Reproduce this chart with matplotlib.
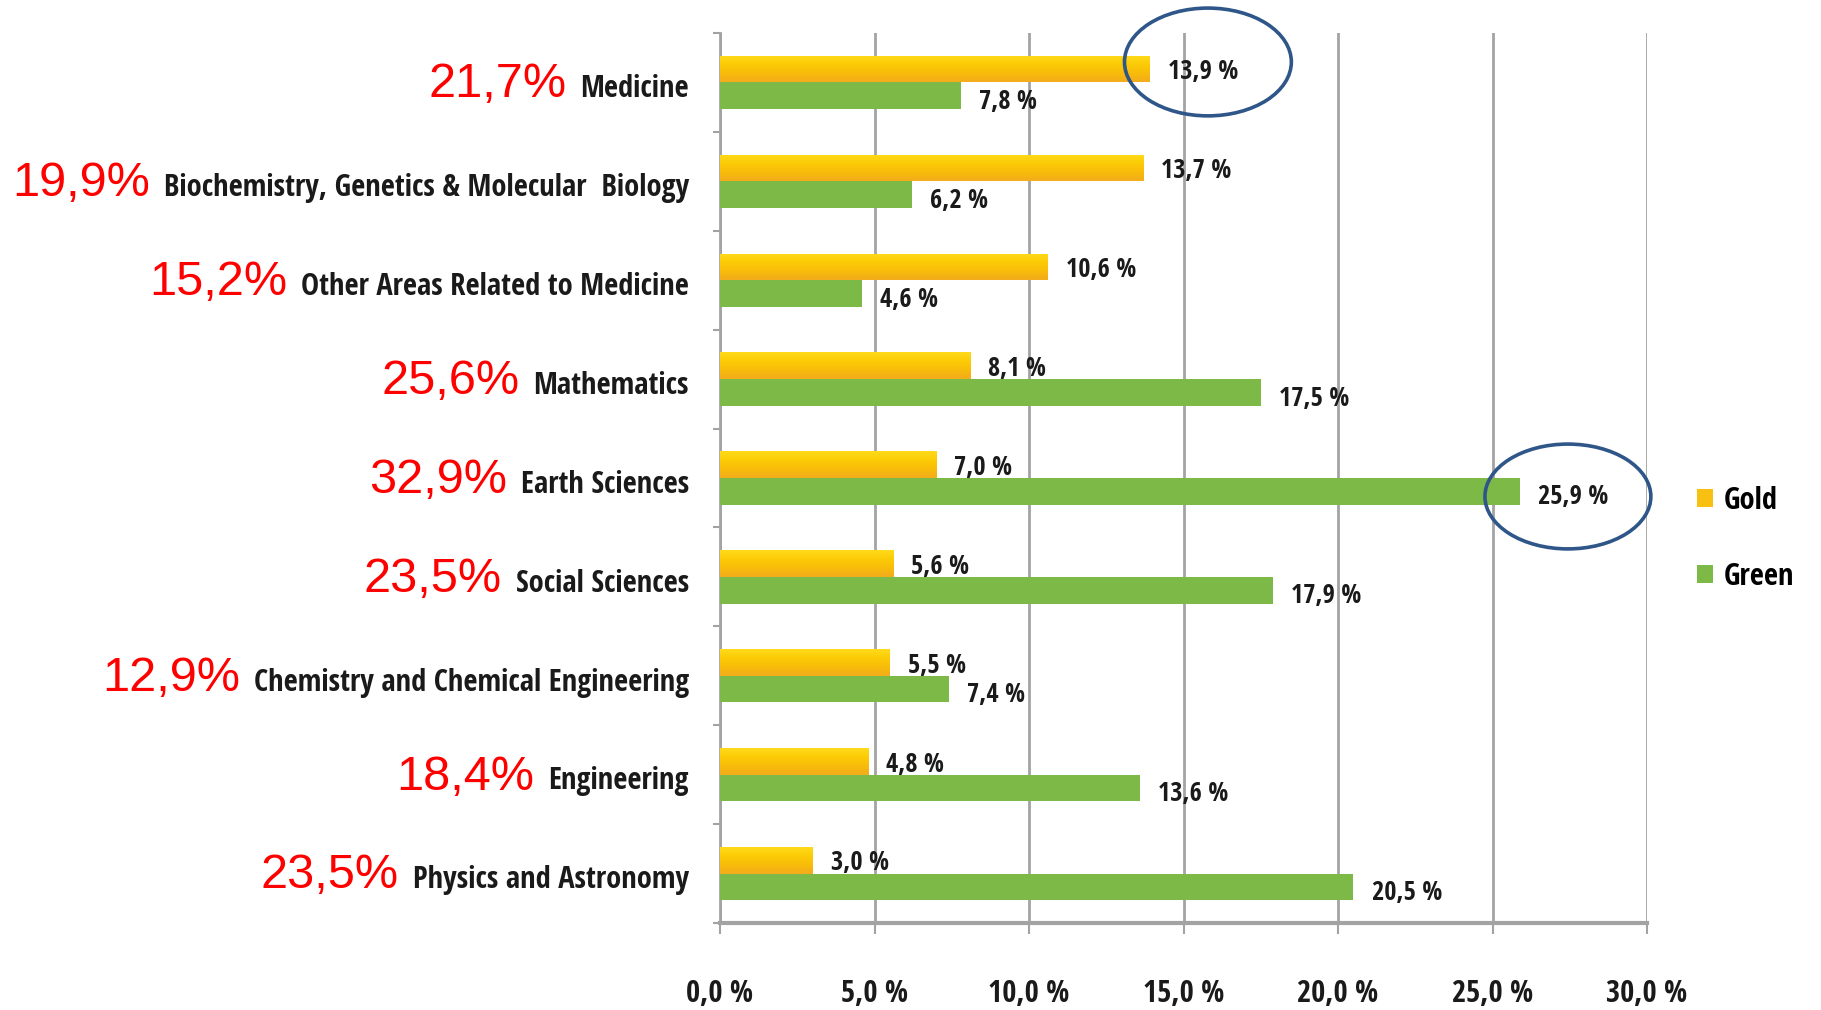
import matplotlib
matplotlib.use("Agg")
import matplotlib.pyplot as plt
import numpy as np
from matplotlib.patches import Ellipse, Patch
from matplotlib.colors import LinearSegmentedColormap
from matplotlib.transforms import IdentityTransform

categories = ["Medicine", "Biochemistry, Genetics & Molecular  Biology",
              "Other Areas Related to Medicine", "Mathematics", "Earth Sciences",
              "Social Sciences", "Chemistry and Chemical Engineering",
              "Engineering", "Physics and Astronomy"]
gold = [13.9, 13.7, 10.6, 8.1, 7.0, 5.6, 5.5, 4.8, 3.0]
green = [7.8, 6.2, 4.6, 17.5, 25.9, 17.9, 7.4, 13.6, 20.5]
totals = ["21,7%", "19,9%", "15,2%", "25,6%", "32,9%", "23,5%", "12,9%", "18,4%", "23,5%"]
xticks = [0, 5, 10, 15, 20, 25, 30]

NARROW = ["Open Sans Condensed", "DejaVu Sans"]
GOLD_C = "#F8C010"
GREEN_C = "#7DB946"
GRID_C = "#A3A3A3"
CIRCLE_C = "#2F5688"
TXT_C = "#1a1a1a"

fig = plt.figure(figsize=(18.21, 10.10), dpi=100)
fig.patch.set_facecolor("white")
ax = fig.add_axes([720/1821, 1-923/1010, (1647-720)/1821, (923-33)/1010])
ax.set_facecolor("white")

ys = list(range(len(categories)))
h = 0.27
gold_bars = ax.barh([y - 0.135 for y in ys], gold, height=h, color=GOLD_C, label="Gold", zorder=3)
ax.barh([y + 0.135 for y in ys], green, height=h, color=GREEN_C, label="Green", zorder=3)

# yellow-to-orange shading on gold bars (clipped to each bar)
gold_cmap = LinearSegmentedColormap.from_list(
    "goldshade", ["#FFDA1A", "#FCCB06", "#F8BC0A", "#F3AC1C"])
grad = np.linspace(0, 1, 32).reshape(-1, 1)
for p in gold_bars.patches:
    x0, y0, w, hh = p.get_x(), p.get_y(), p.get_width(), p.get_height()
    im = ax.imshow(grad, extent=(x0, x0 + w, y0 + hh, y0), origin="upper",
                   aspect="auto", cmap=gold_cmap, interpolation="bilinear", zorder=3.5)
    im.set_clip_path(p)

def fmt(v):
    return f"{v:.1f}".replace(".", ",") + " %"

for y, v in zip(ys, gold):
    ax.annotate(fmt(v), (v, y - 0.135), xytext=(13, -2), textcoords="offset points",
                ha="left", va="center", fontsize=19, fontweight="bold",
                family=NARROW, color=TXT_C, zorder=5)
for y, v in zip(ys, green):
    ax.annotate(fmt(v), (v, y + 0.135), xytext=(13, -4), textcoords="offset points",
                ha="left", va="center", fontsize=19, fontweight="bold",
                family=NARROW, color=TXT_C, zorder=5)

ax.set_xlim(0, 30)
ax.set_ylim(len(categories) - 0.5, -0.5)
ax.set_xticks(xticks)
ax.set_xticklabels([f"{t:.1f}".replace(".", ",") + " %" for t in xticks],
                   fontsize=22, fontweight="bold", family=NARROW, color=TXT_C)
ax.tick_params(axis="x", length=8, width=1.5, color=GRID_C, pad=32)
ax.set_yticks([y - 0.5 for y in range(len(categories) + 1)])
ax.set_yticklabels([])
ax.tick_params(axis="y", length=5, width=1.5, color=GRID_C, direction="out")
ax.xaxis.grid(True, color=GRID_C, linewidth=2, zorder=0)
ax.set_axisbelow(True)
for s in ["top", "right"]:
    ax.spines[s].set_visible(False)
ax.spines["left"].set_color(GRID_C)
ax.spines["left"].set_linewidth(2)
ax.spines["bottom"].set_color(GRID_C)
ax.spines["bottom"].set_linewidth(3)

# category labels
cat_texts = []
for y, c in zip(ys, categories):
    t = ax.text(-31/30.9, y + 0.15, c, ha="right", va="baseline", fontsize=22,
                fontweight="bold", family=NARROW, color=TXT_C)
    cat_texts.append(t)

fig.canvas.draw()
r = fig.canvas.get_renderer()
for t, tot in zip(cat_texts, totals):
    bb = t.get_window_extent(r)
    disp_y = t.get_transform().transform(t.get_position())[1]
    fig.text(bb.x0 - 14, disp_y, tot, transform=IdentityTransform(), ha="right",
             va="baseline", fontsize=35, color="#FF0000",
             family=["Liberation Sans", "DejaVu Sans"])

ax.add_patch(Ellipse((15.79, -0.207), 5.40, 1.09, fill=False, edgecolor=CIRCLE_C,
                     linewidth=2.6, clip_on=False, zorder=6))
ax.add_patch(Ellipse((27.44, 4.187), 5.37, 1.06, fill=False, edgecolor=CIRCLE_C,
                     linewidth=2.6, clip_on=False, zorder=6))

handles = [Patch(facecolor=GOLD_C), Patch(facecolor=GREEN_C)]
leg = fig.legend(handles, ["Gold", "Green"], loc="center left",
                 bbox_to_anchor=(1669/1821, 1 - 539/1010), frameon=False,
                 handlelength=0.55, handleheight=0.55, handletextpad=0.35,
                 labelspacing=1.5, prop={"family": NARROW, "weight": "bold", "size": 22})

fig.savefig("out.png", dpi=100, facecolor="white")
